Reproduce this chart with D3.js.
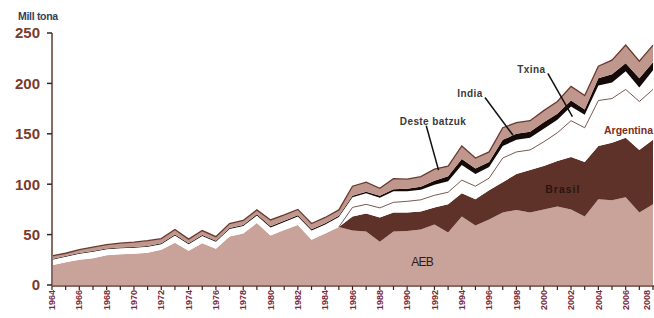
<!DOCTYPE html>
<html>
<head>
<meta charset="utf-8">
<script src="https://cdn.jsdelivr.net/npm/d3@7"></script>
<style>
  body { margin: 0; background: #fff; }
  svg { display: block; }
  text { font-family: "Liberation Sans", Arial, sans-serif; }
</style>
</head>
<body>
<svg id="chart" width="654" height="318"></svg>
<script>
// data, mill tona
const years = [1964,1965,1966,1967,1968,1969,1970,1971,1972,1973,1974,1975,1976,1977,1978,1979,
  1980,1981,1982,1983,1984,1985,1986,1987,1988,1989,1990,1991,1992,1993,1994,1995,1996,1997,
  1998,1999,2000,2001,2002,2003,2004,2005,2006,2007,2008]
const aeb = [19.5,22.5,25,26.5,29.5,30.5,31,32,35,42,34,41.5,36,48,51,61.5,
  49,54.5,59.5,45,51,57.5,54,53,43,53,53.5,55,60,52,68,59,65,72,
  74.5,72,75,78,75,68,85,84,87,72,80]
const brasil = [0,0,0,0,0,0,0,0,0,0,0,0,0,0,0,0,
  0,0,0,0,0,0,14,18,24,19,18.5,18,17,28,23,26,29,30,
  35.5,42,43,45,52,54,53,57,59,62,64]
const argentina = [0,0,0,0,0,0,0,0,0,0,0,0,0,0,0,0,
  0,0,0,0,0,0,9,9,9.5,10,11,11.5,12,12,13,13,12,24,
  22,20,24,28,36,34,45,44,48,48,50]
const txina = [5.5,5.5,6,6.5,6,6,6,6,5.5,7,6.5,7,7,7.5,7.5,7.5,
  8,8,8.5,9,9,10,10,11,10,11,10,10,10.5,11,15,12,11,12,
  12,12,13,13,14,13,15,16,18,14,19]
const india = [0.8,0.8,0.8,0.8,0.8,0.8,0.8,0.8,0.8,1,1,1,1,1,1,1.2,
  1.2,1.2,1.2,1.2,1.2,1.2,1.5,1.5,2,2,2.5,3,4,5,6,5.5,5,6,
  6,6,6.5,6,6,5,7,8,8,9,8]
const besteak = [3,2.7,3.2,3.7,3.7,4.2,4.7,5.2,4.7,5,4,4.5,4,4.5,4.5,4.3,
  6.3,5.8,5.8,5.8,5.8,5.8,9.5,9.5,7.5,10.5,9.5,10,11.5,10,13,10.5,10,12,
  11,11,11.5,12,14,14,12,14,18,17,17]

const keys = ['AEB', 'Brasil', 'Argentina', 'Txina', 'India', 'Deste batzuk']
const colors = ['#c9a299', '#5f3229', '#ffffff', '#ffffff', '#140a08', '#c0978c']
const yTicks = [0, 50, 100, 150, 200, 250]

// annotations, in data units: [text, year, value, lineFrom, lineTo]
const notes = [
  ['Deste batzuk', 1991.9, 162, [1991.4, 158], [1992.3, 114]],
  ['India', 1994.6, 190, [1995.7, 186], [1997.75, 148.5]],
  ['Txina', 1999.1, 214, [2000.3, 210], [2002.1, 167]]
]

const table = years.map((yr, i) => ({
  year: yr,
  'AEB': aeb[i],
  'Brasil': brasil[i],
  'Argentina': argentina[i],
  'Txina': txina[i],
  'India': india[i],
  'Deste batzuk': besteak[i]
}))

const svg = d3.select('#chart')

const x = d3.scaleLinear().domain([1964, 2008]).range([52, 653])
const y = d3.scaleLinear().domain([0, 250]).range([285, 33])

const series = d3.stack().keys(keys)(table)

const area = d3.area()
  .x((d) => x(d.data.year))
  .y0((d) => y(d[0]))
  .y1((d) => y(d[1]))

svg.append('g')
  .selectAll('path')
  .data(series)
  .enter()
  .append('path')
  .attr('d', area)
  .attr('fill', (s, i) => colors[i])

// thin outlines: top of Argentina (once it exists) and top of the whole stack
const topLine = d3.line()
  .x((d) => x(d.data.year))
  .y((d) => y(d[1]))

svg.append('path')
  .datum(series[2])
  .attr('d', topLine.defined((d, i) => argentina[i] > 0 || argentina[i + 1] > 0))
  .attr('fill', 'none')
  .attr('stroke', '#6b463e')
  .attr('stroke-width', 0.9)

svg.append('path')
  .datum(series[5])
  .attr('d', d3.line().x((d) => x(d.data.year)).y((d) => y(d[1])))
  .attr('fill', 'none')
  .attr('stroke', '#6a3a30')
  .attr('stroke-width', 1.3)

// y axis
const yAxis = svg.append('g')
yAxis.append('line')
  .attr('x1', x(1964)).attr('x2', x(1964))
  .attr('y1', y(250)).attr('y2', y(0) + 1)
  .attr('stroke', '#8a6a62')
  .attr('stroke-width', 2)
yAxis.selectAll('.tick')
  .data(yTicks)
  .enter()
  .append('line')
  .attr('x1', x(1964) - 5).attr('x2', x(1964))
  .attr('y1', (d) => y(d)).attr('y2', (d) => y(d))
  .attr('stroke', '#3a2420')
  .attr('stroke-width', 1.5)
yAxis.selectAll('text')
  .data(yTicks)
  .enter()
  .append('text')
  .attr('x', 40)
  .attr('y', (d) => y(d))
  .attr('dy', '0.36em')
  .attr('text-anchor', 'end')
  .attr('font-size', 15)
  .attr('font-weight', 'bold')
  .attr('fill', '#7a3a2c')
  .text((d) => d)

svg.append('text')
  .attr('x', 18)
  .attr('y', 20)
  .attr('font-size', 10.5)
  .attr('font-weight', 'bold')
  .attr('fill', '#34405a')
  .attr('letter-spacing', '-0.3')
  .text('Mill tona')

// x axis
const xAxis = svg.append('g')
xAxis.append('line')
  .attr('x1', x(1964)).attr('x2', 654)
  .attr('y1', y(0) + 1).attr('y2', y(0) + 1)
  .attr('stroke', '#8a6a62')
  .attr('stroke-width', 2)
xAxis.selectAll('.tick')
  .data(years)
  .enter()
  .append('line')
  .attr('x1', (d) => x(d)).attr('x2', (d) => x(d))
  .attr('y1', y(0) + 1).attr('y2', y(0) + 5)
  .attr('stroke', '#3a2420')
  .attr('stroke-width', 1.2)
// last label is nudged in so it is not clipped at the right edge
xAxis.selectAll('text')
  .data(years.filter((d) => d % 2 === 0))
  .enter()
  .append('text')
  .attr('transform', (d) => `translate(${Math.min(x(d), 647)}, ${y(0) + 5}) rotate(-90)`)
  .attr('dy', '0.35em')
  .attr('text-anchor', 'end')
  .attr('font-size', 9)
  .attr('font-weight', 'bold')
  .attr('fill', '#7a2a40')
  .text((d) => d)

// series labels
svg.append('text')
  .attr('x', x(1991.1)).attr('y', y(22.8))
  .attr('dy', '0.35em')
  .attr('text-anchor', 'middle')
  .attr('font-size', 12)
  .attr('letter-spacing', '-0.8')
  .attr('fill', '#2a1c18')
  .text('AEB')

svg.append('text')
  .attr('x', x(2001.4)).attr('y', y(95.2))
  .attr('dy', '0.35em')
  .attr('text-anchor', 'middle')
  .attr('font-size', 10.5)
  .attr('font-weight', 'bold')
  .attr('letter-spacing', '1')
  .attr('fill', '#2a1510')
  .text('Brasil')

svg.append('text')
  .attr('x', 653).attr('y', y(153.8))
  .attr('dy', '0.35em')
  .attr('text-anchor', 'end')
  .attr('font-size', 10.5)
  .attr('font-weight', 'bold')
  .attr('fill', '#7a2e22')
  .text('Argentina')

const noteG = svg.append('g')
noteG.selectAll('line')
  .data(notes)
  .enter()
  .append('line')
  .attr('x1', (d) => x(d[3][0])).attr('y1', (d) => y(d[3][1]))
  .attr('x2', (d) => x(d[4][0])).attr('y2', (d) => y(d[4][1]))
  .attr('stroke', '#111')
  .attr('stroke-width', 1.5)
noteG.selectAll('text')
  .data(notes)
  .enter()
  .append('text')
  .attr('x', (d) => x(d[1])).attr('y', (d) => y(d[2]))
  .attr('dy', '0.35em')
  .attr('text-anchor', 'middle')
  .attr('font-size', 10)
  .attr('font-weight', 'bold')
  .attr('letter-spacing', '0.4')
  .attr('fill', '#3a3a3a')
  .text((d) => d[0])
</script>
</body>
</html>
